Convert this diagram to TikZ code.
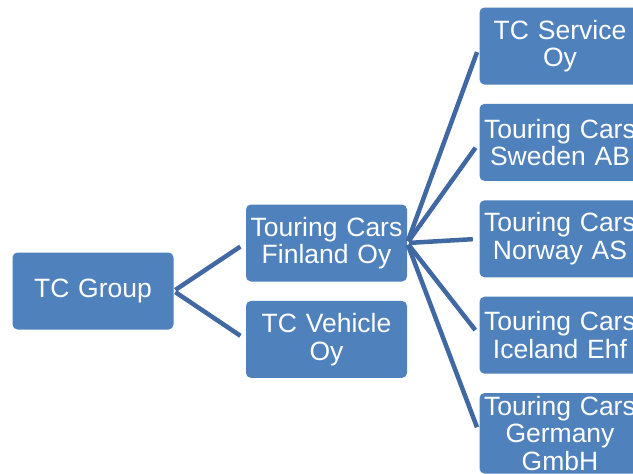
\documentclass[tikz,border=0pt]{standalone}
\usepackage{fontspec}
\setmainfont{Liberation Sans}
\usetikzlibrary{positioning}
\definecolor{boxblue}{RGB}{79,129,189}
\definecolor{lineblue}{RGB}{64,104,163}

\begin{document}
\begin{tikzpicture}[x=1pt, y=-1pt,
                          orgbox/.style={rectangle, rounded corners=5pt, fill=boxblue, text=white, minimum width=161pt, minimum height=77pt, text width=155pt, inner sep=3pt, align=center, font=\fontsize{26.5}{27.5}\selectfont, execute at end node={\endgraf\vskip-5pt}},
                          link/.style={draw=lineblue, line width=4.5pt, shorten <=2pt, shorten >=6.5pt},
                      ]
                      \useasboundingbox (0,0) rectangle (633,474);
                      \clip (0,0) rectangle (633,474);
                      %Nodes
                      \node[orgbox]    (group)    at (93,291)             {TC Group};
                      \node[orgbox]    (finland)  at (326.5,243)          {Touring Cars\\Finland Oy};
                      \node[orgbox]    (vehicle)  [below=19pt of finland] {TC Vehicle\\Oy};
                      \node[orgbox]    (service)  at (560,46)             {TC Service\\Oy};
                      \node[orgbox]    (sweden)   [below=19pt of service] {Touring Cars\\Sweden AB};
                      \node[orgbox]    (norway)   [below=19pt of sweden]  {Touring Cars\\Norway AS};
                      \node[orgbox]    (iceland)  [below=19pt of norway]  {Touring Cars\\Iceland Ehf};
                      \node[orgbox]    (germany)  [below=19pt of iceland] {Touring Cars\\Germany\\GmbH};

                      %Lines
                      \draw[link] (group.east) -- (finland.west);
                      \draw[link] (group.east) -- (vehicle.west);
                      \draw[link] (finland.east) -- (service.west);
                      \draw[link] (finland.east) -- (sweden.west);
                      \draw[link] (finland.east) -- (norway.west);
                      \draw[link] (finland.east) -- (iceland.west);
                      \draw[link] (finland.east) -- (germany.west);
                  \end{tikzpicture}
\end{document}
